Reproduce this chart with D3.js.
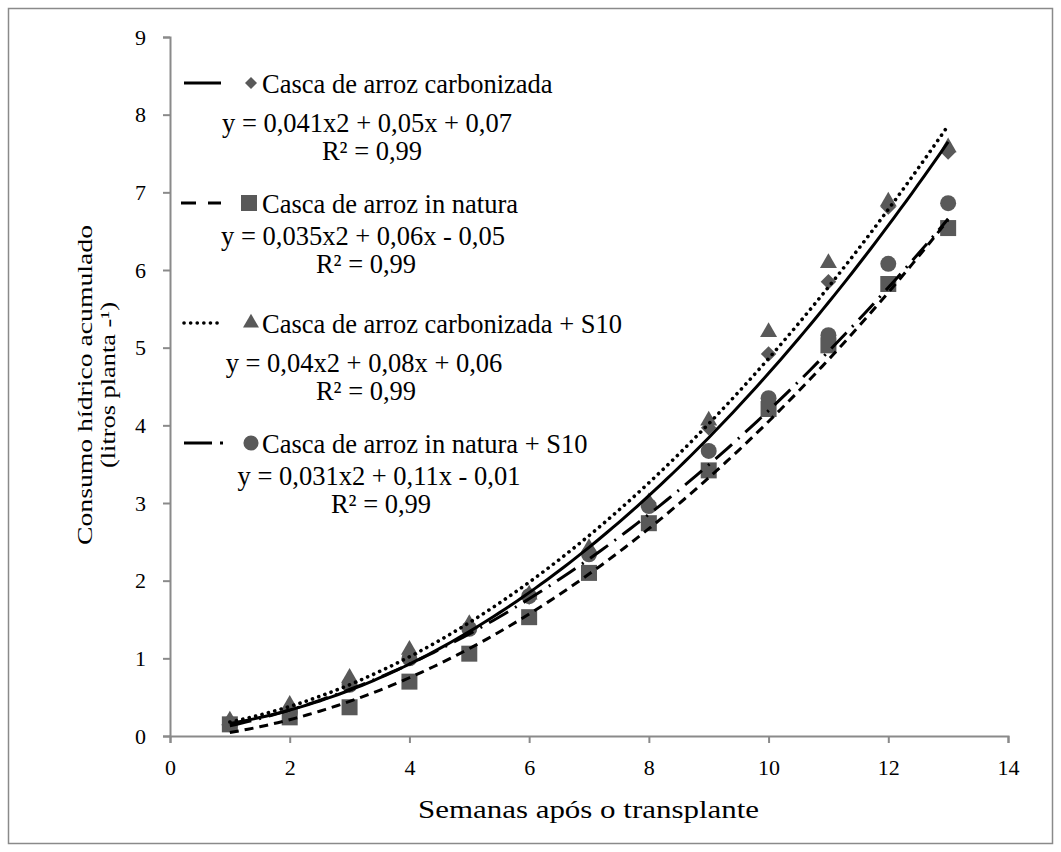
<!DOCTYPE html>
<html>
<head>
<meta charset="utf-8">
<script src="https://cdn.jsdelivr.net/npm/d3@7"></script>
<style>
  body { margin: 0; background: #fff; }
  text { font-family: "Liberation Serif", "Times New Roman", serif; fill: #000; }
</style>
</head>
<body>
<script>
// semanas e consumo acumulado (litros planta-1)
var weeks = [1, 2, 3, 4, 5, 6, 7, 8, 9, 10, 11, 12, 13];

var carbonizada     = [0.15, 0.32, 0.66, 1.00, 1.38, 1.79, 2.38, 3.00, 3.97, 4.92, 5.85, 6.81, 7.52];
var inNatura        = [0.15, 0.24, 0.37, 0.70, 1.06, 1.53, 2.10, 2.74, 3.42, 4.21, 5.03, 5.82, 6.54];
var carbonizadaS10  = [0.20, 0.40, 0.75, 1.11, 1.44, 1.82, 2.42, 3.01, 4.06, 5.20, 6.09, 6.88, 7.58];
var inNaturaS10     = [0.15, 0.30, 0.66, 1.00, 1.38, 1.80, 2.34, 2.96, 3.67, 4.35, 5.16, 6.08, 6.86];

var seriesNames = ["Casca de arroz carbonizada", "Casca de arroz in natura",
                   "Casca de arroz carbonizada + S10", "Casca de arroz in natura + S10"];
// coeficientes das linhas de tendência (a, b, c) como mostrados no gráfico
var coefA = [0.041, 0.035, 0.04, 0.031];
var coefB = [0.05, 0.06, 0.08, 0.11];
var coefC = [0.07, -0.05, 0.06, -0.01];
var equations = ["y = 0,041x2 + 0,05x + 0,07", "y = 0,035x2 + 0,06x - 0,05",
                 "y = 0,04x2 + 0,08x + 0,06", "y = 0,031x2 + 0,11x - 0,01"];
var r2Labels = ["R² = 0,99", "R² = 0,99", "R² = 0,99", "R² = 0,99"];

var xTicks = [0, 2, 4, 6, 8, 10, 12, 14];
var yTicks = [0, 1, 2, 3, 4, 5, 6, 7, 8, 9];

var width = 1061, height = 852;
var markerColor = "#595959", axisColor = "#8a8a8a";
var serif = "'Liberation Serif', 'Times New Roman', serif";

var svg = d3.select("body").append("svg")
    .attr("width", width)
    .attr("height", height);

// moldura
svg.append("rect")
    .attr("x", 8.5).attr("y", 8.5)
    .attr("width", 1044).attr("height", 835)
    .attr("fill", "none")
    .attr("stroke", axisColor)
    .attr("stroke-width", 1.5);

var x = d3.scaleLinear().domain([0, 14]).range([170, 1008]);
var y = d3.scaleLinear().domain([0, 9]).range([736, 37]);

// eixos
var xAxis = svg.append("g")
    .attr("transform", "translate(0," + y(0) + ")")
    .call(d3.axisBottom(x).tickValues(xTicks).tickSize(7).tickPadding(16));
var yAxis = svg.append("g")
    .attr("transform", "translate(" + x(0) + ",0)")
    .call(d3.axisLeft(y).tickValues(yTicks).tickSize(7).tickPadding(17));

[xAxis, yAxis].forEach(function(ax) {
  ax.select(".domain").attr("stroke", axisColor).attr("stroke-width", 2);
  ax.selectAll(".tick line").attr("stroke", axisColor).attr("stroke-width", 2);
  ax.selectAll(".tick text")
    .style("font-family", serif)
    .style("font-size", "22px")
    .attr("fill", "#000");
});

// títulos dos eixos
svg.append("text")
    .attr("x", 418).attr("y", 818)
    .attr("textLength", 341)
    .attr("lengthAdjust", "spacingAndGlyphs")
    .style("font-family", serif)
    .style("font-size", "26px")
    .text("Semanas após o transplante");

var yTitle = svg.append("g").attr("transform", "translate(92,385) rotate(-90)");
yTitle.append("text")
    .attr("x", -160).attr("y", 0)
    .attr("textLength", 320)
    .attr("lengthAdjust", "spacingAndGlyphs")
    .style("font-family", serif)
    .style("font-size", "21px")
    .text("Consumo hídrico acumulado");
yTitle.append("text")
    .attr("x", -83).attr("y", 23)
    .attr("textLength", 166)
    .attr("lengthAdjust", "spacingAndGlyphs")
    .style("font-family", serif)
    .style("font-size", "21px")
    .text("(litros planta -¹)");

// estilos das séries
var dashes = [null, "9,6", "0.1,6.5", "22,8,2,8"];
var caps = ["butt", "butt", "round", "butt"];
var widths = [3, 3, 3.6, 3];
var allSeries = [carbonizada, inNatura, carbonizadaS10, inNaturaS10];
var symbols = [d3.symbolSquare, d3.symbolSquare, d3.symbolTriangle, d3.symbolCircle];
var rotations = [45, 0, 0, 0];
var symSizes = [120, 256, 125, 200];

// marcadores (ordem: triângulo, círculo, quadrado, losango por cima)
var drawOrder = [2, 3, 1, 0];
drawOrder.forEach(function(s) {
  svg.append("g").selectAll("path")
    .data(weeks.map(function(w, i) { return {w: w, v: allSeries[s][i]}; }))
    .enter().append("path")
    .attr("transform", function(d) {
      return "translate(" + x(d.w) + "," + y(d.v) + ") rotate(" + rotations[s] + ")";
    })
    .attr("d", d3.symbol().type(symbols[s]).size(symSizes[s]))
    .attr("fill", markerColor);
});

// linhas de tendência polinomiais
var line = d3.line()
    .x(function(d) { return x(d[0]); })
    .y(function(d) { return y(d[1]); });

allSeries.forEach(function(ser, s) {
  var pts = d3.range(1, 13.001, 0.1).map(function(t) {
    return [t, coefA[s] * t * t + coefB[s] * t + coefC[s]];
  });
  svg.append("path")
    .datum(pts)
    .attr("d", line)
    .attr("fill", "none")
    .attr("stroke", "#000")
    .attr("stroke-width", widths[s])
    .attr("stroke-dasharray", dashes[s])
    .attr("stroke-linecap", caps[s]);
});

// legenda
var legY = [83, 203, 323, 443];
var eqDy = [49, 42, 49, 42];
var eqX = [367, 363, 364, 379];
var r2X = [372, 366, 366, 381];
var legSizes = [72, 256, 110, 180];
seriesNames.forEach(function(name, s) {
  var g = svg.append("g").attr("transform", "translate(0," + legY[s] + ")");
  g.append("line")
    .attr("x1", s === 1 ? 181 : 184).attr("x2", s === 3 ? 225 : 221)
    .attr("y1", 0).attr("y2", 0)
    .attr("stroke", "#000")
    .attr("stroke-width", widths[s])
    .attr("stroke-dasharray", s === 1 ? "15,12" : s === 3 ? "28,8,3,8" : dashes[s])
    .attr("stroke-linecap", caps[s]);
  g.append("path")
    .attr("transform", "translate(" + (s === 1 ? 249 : 251) + ",0) rotate(" + rotations[s] + ")")
    .attr("d", d3.symbol().type(symbols[s]).size(legSizes[s]))
    .attr("fill", markerColor);
  g.append("text")
    .attr("x", 262).attr("y", 10)
    .style("font-size", "26.5px")
    .text(name);
  g.append("text")
    .attr("x", eqX[s]).attr("y", eqDy[s])
    .attr("text-anchor", "middle")
    .style("font-size", "26.5px")
    .text(equations[s]);
  g.append("text")
    .attr("x", r2X[s]).attr("y", eqDy[s] + 28)
    .attr("text-anchor", "middle")
    .style("font-size", "26.5px")
    .text(r2Labels[s]);
});
</script>
</body>
</html>
